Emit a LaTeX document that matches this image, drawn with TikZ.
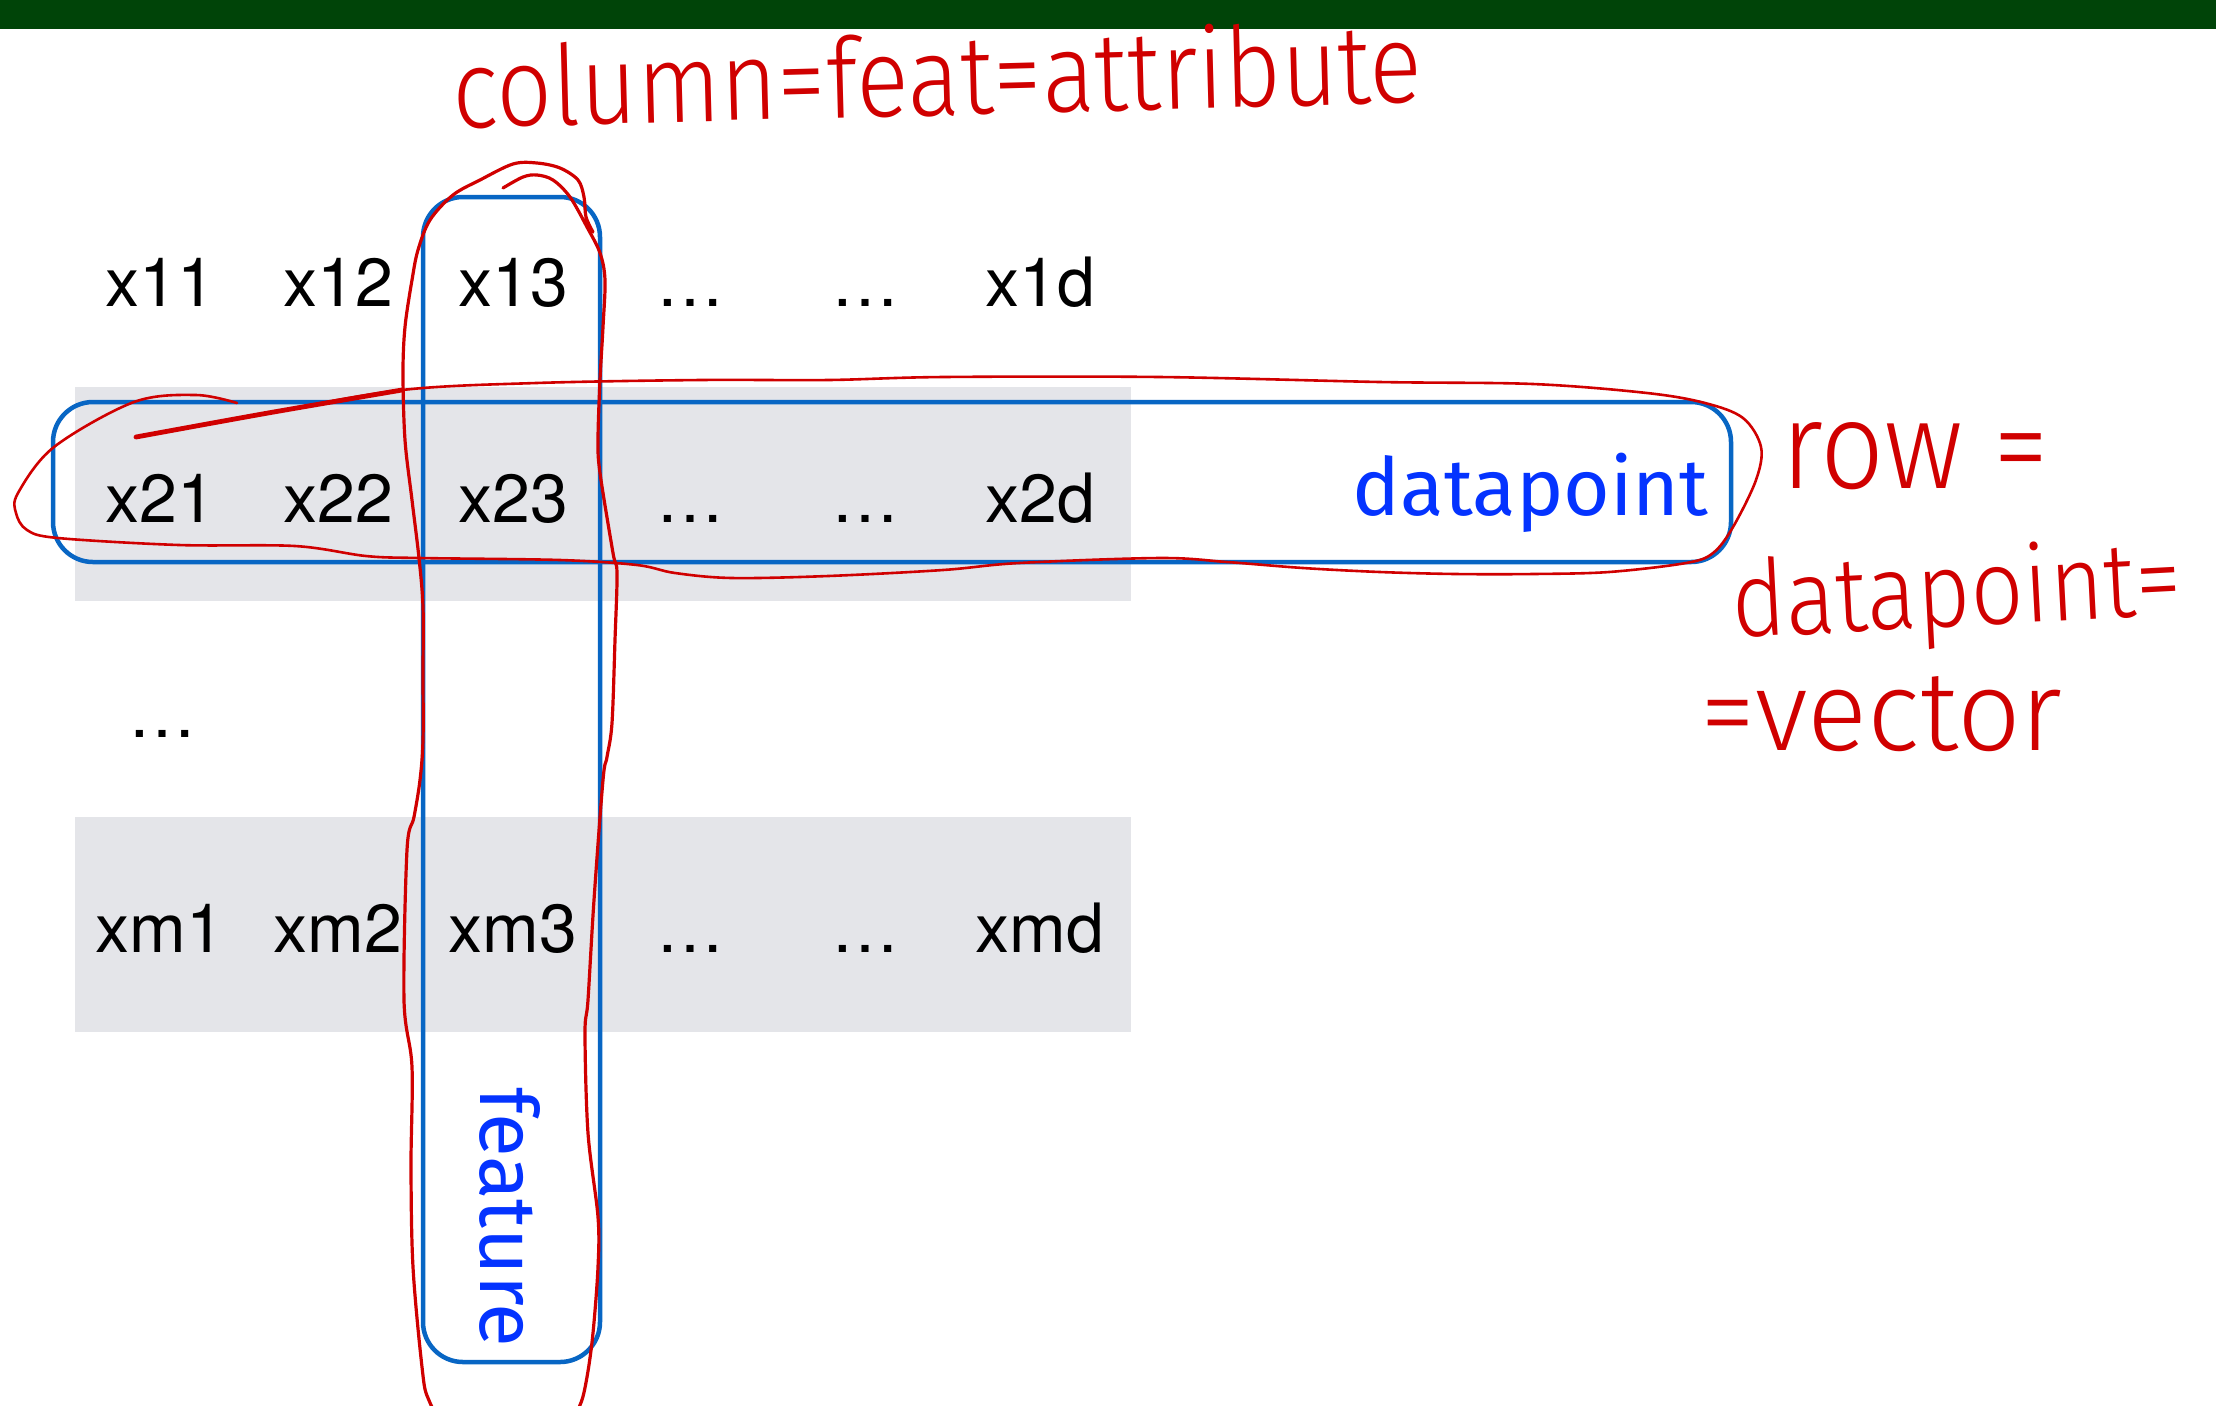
\documentclass[tikz,border=0pt]{standalone}
\usepackage{fontspec}
\usepackage{graphicx}
\setmainfont{TeX Gyre Heros}
\newfontfamily\labelfont{Fira Sans}
\newfontfamily\handfont{Fira Sans Light}

\definecolor{bargreen}{RGB}{0,68,8}
\definecolor{bandgray}{RGB}{228,229,233}
\definecolor{boxblue}{RGB}{8,102,196}
\definecolor{textblue}{RGB}{4,51,255}
\definecolor{penred}{RGB}{208,0,0}

\tikzset{
  cell/.style={inner sep=0pt, anchor=base, font=\fontsize{34}{40}\selectfont},
  bluebox/.style={draw=boxblue, line width=2.25pt, rounded corners=20pt},
  bluelabel/.style={inner sep=0pt, text=textblue, font=\labelfont\fontsize{40}{48}\selectfont},
  pen/.style={draw=penred, line width=1.5pt, line cap=round, line join=round},
  hand/.style={inner sep=0pt, text=penred, font=\handfont},
}

\begin{document}
\begin{tikzpicture}[x=0.5pt,y=-0.5pt]
\useasboundingbox (0,0) rectangle (2216,1405);
\fill[white] (0,0) rectangle (2216,1405);

% title bar and shaded rows
\fill[bargreen] (0,0) rectangle (2216,29);
\fill[bandgray] (75,387) rectangle (1131,601);
\fill[bandgray] (75,817) rectangle (1131,1032);

% matrix entries
\node[cell] (c11) at (160,306) {x11};
\node[cell] (c12) at (338,306) {x12};
\node[cell] (c13) at (513,306) {x13};
\node[cell] (c14) at (690,306) {\ldots};
\node[cell] (c15) at (865,306) {\ldots};
\node[cell] (c16) at (1040,306) {x1d};

\node[cell] (c21) at (160,522) {x21};
\node[cell] (c22) at (338,522) {x22};
\node[cell] (c23) at (513,522) {x23};
\node[cell] (c24) at (690,522) {\ldots};
\node[cell] (c25) at (865,522) {\ldots};
\node[cell] (c26) at (1040,522) {x2d};

\node[cell] (c31) at (162,737) {\ldots};

\node[cell] (cm1) at (160,952) {xm1};
\node[cell] (cm2) at (338,952) {xm2};
\node[cell] (cm3) at (513,952) {xm3};
\node[cell] (cm4) at (690,952) {\ldots};
\node[cell] (cm5) at (865,952) {\ldots};
\node[cell] (cm6) at (1040,952) {xmd};

% row and column frames
\draw[bluebox] (53,402) rectangle (1731,562);
\draw[bluebox] (423,197) rectangle (600,1362);
\node[bluelabel, anchor=base east] (dplabel) at (1709,515) {datapoint};
\node[bluelabel, anchor=base west, rotate=-90] (ftlabel) at (480,1087) {feature};

% pen loops
\begin{scope}
\clip (0,0) rectangle (2216,1405);
\draw[pen, line width=1.3pt] plot[smooth, tension=0.55] coordinates {
  (136,437) (268,413) (402,390) (536,383) (700,380) (828,380) (943,377)
  (1160,377) (1380,382) (1533,384) (1647,393) (1705,403) (1743,418)
  (1761,447) (1756,480) (1733,527) (1713,553) (1686,563) (1609,572)
  (1533,574) (1456,574) (1380,572) (1303,568) (1227,562) (1160,558)
  (1019,563) (943,570) (828,576) (732,578) (675,573) (637,565) (560,560)
  (420,558) (366,556) (295,546) (179,545) (58,538) (27,530) (16,513)
  (18,493) (54,447) (134,402) (196,395) (237,403)};
\draw[pen, line width=2.4pt] plot[smooth] coordinates {
  (136,437) (268,413) (402,390)};
\draw[pen, line width=1.6pt] plot[smooth, tension=0.55] coordinates {
  (503,188) (523,177) (537,175) (553,180) (570,197) (587,227) (600,253)
  (605,280) (603,327) (600,380) (598,440) (600,473) (613,553) (617,573)
  (615,640) (612,723) (607,757) (603,780) (594,900) (588,1000) (585,1033)
  (588,1133) (598,1217) (598,1267) (593,1333) (587,1377) (580,1405)
  (565,1425) (500,1432) (445,1420) (428,1398) (422,1367) (413,1267)
  (411,1167) (412,1067) (404,1000) (407,850) (414,817) (420,780)
  (423,740) (423,673) (423,607) (419,558) (412,500) (405,440) (403,373)
  (405,327) (412,280) (418,250) (430,220) (453,195) (480,180) (513,164)
  (537,163) (560,168) (578,180) (584,197) (586,217) (593,232)};
\end{scope}

% pen notes
\node[hand, anchor=base west, rotate=1.5] (notecol) at (453,128)
  {\resizebox{485pt}{42pt}{column=feat=attribute}};
\node[hand, anchor=base west] (noterow) at (1781,488)
  {\resizebox{134pt}{33pt}{row =}};
\node[hand, anchor=base west, rotate=3] (notedp) at (1733,638)
  {\resizebox{225pt}{40pt}{datapoint=}};
\node[hand, anchor=base west] (notevec) at (1700,750)
  {\resizebox{181pt}{37pt}{=vector}};
\end{tikzpicture}
\end{document}
